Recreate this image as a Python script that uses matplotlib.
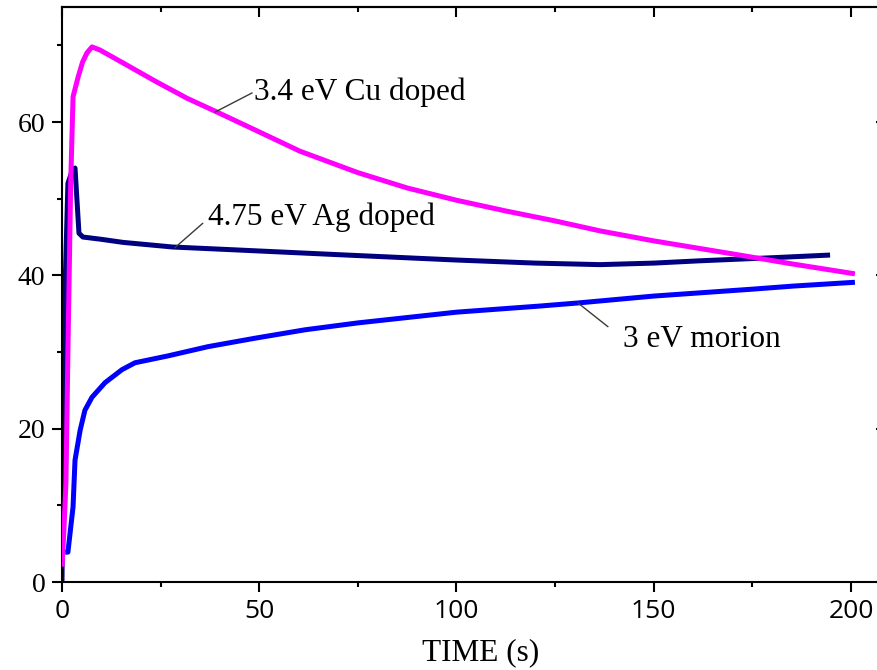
"""Photocurrent transients for doped and morion quartz samples."""

import matplotlib.pyplot as plt

# 3.4 eV, Cu doped
t_cu = [0, 0.5, 1.0, 1.5, 2.2, 2.8, 4.1, 5.2, 6.3, 7.6, 9.6, 15.5, 24.1, 31.7,
        39.3, 48.4, 60.3, 75, 87.5, 100, 112.5, 125, 136.4, 150, 170, 185, 201]
y_cu = [2, 7, 13, 30, 52, 63.3, 65.9, 67.8, 69.0, 69.8, 69.4, 67.7, 65.2, 63.1,
        61.3, 59.1, 56.2, 53.4, 51.4, 49.8, 48.4, 47.1, 45.8, 44.5, 42.8, 41.5, 40.2]

# 4.75 eV, Ag doped
t_ag = [0, 0.3, 0.7, 1.5, 2.5, 3.3, 4.3, 5.3, 10, 15.5, 28, 45, 70, 100, 120,
        136.4, 150, 161.7, 180, 194.7]
y_ag = [0, 20, 37, 52, 53.5, 54, 45.5, 45.0, 44.7, 44.3, 43.7, 43.3, 42.7, 42.0,
        41.6, 41.4, 41.6, 41.9, 42.3, 42.65]

# 3 eV, morion
t_mo = [0.8, 1.5, 2.8, 3.3, 4.6, 5.8, 7.6, 10.9, 15.2, 18.5, 26.9, 37, 48.9,
        61.6, 75, 100, 121.2, 130.8, 150, 175, 185.3, 201]
y_mo = [3.9, 3.9, 9.8, 15.9, 19.8, 22.4, 24.1, 26.0, 27.7, 28.6, 29.5, 30.7,
        31.8, 32.9, 33.8, 35.2, 36.0, 36.4, 37.3, 38.2, 38.6, 39.1]

x_ticks = [0, 50, 100, 150, 200]
y_ticks = [0, 20, 40, 60]

serif = 'Liberation Serif'
sans = 'Open Sans'

fig = plt.figure(figsize=(8.77, 6.70), dpi=100)
ax = fig.add_axes([0.0707, 0.1313, 0.9401, 0.8582])

lw = 3.6
ax.plot(t_cu, y_cu, color='#ff00ff', lw=lw, solid_capstyle='butt', zorder=3)
ax.plot(t_mo, y_mo, color='#0000ff', lw=lw, solid_capstyle='butt', zorder=2)
ax.plot(t_ag, y_ag, color='#000080', lw=lw, solid_capstyle='butt', zorder=2)

ax.set_xlim(0, 209)
ax.set_ylim(0, 75)
ax.set_xticks(x_ticks)
ax.set_yticks(y_ticks)
ax.set_xticks([25, 75, 125, 175], minor=True)
ax.set_yticks([10, 30, 50, 70], minor=True)

for s in ax.spines.values():
    s.set_linewidth(1.5)

ax.tick_params(which='major', direction='out', length=7, width=1.5, pad=5)
ax.tick_params(which='minor', direction='out', length=3.5, width=1.5)
ax.tick_params(axis='x', labelsize=19, labelfontfamily=sans)
ax.tick_params(axis='y', labelsize=20, labelfontfamily=serif)

# top / right ticks point inwards, no labels
top = ax.secondary_xaxis('top')
top.set_xticks(x_ticks)
top.set_xticks([25, 75, 125, 175], minor=True)
right = ax.secondary_yaxis('right')
right.set_yticks(y_ticks)
right.set_yticks([10, 30, 50, 70], minor=True)
for sec in (top, right):
    sec.tick_params(which='major', direction='in', length=7, width=1.5,
                    labelleft=False, labelright=False, labeltop=False, labelbottom=False)
    sec.tick_params(which='minor', direction='in', length=3.5, width=1.5)
    for s in sec.spines.values():
        s.set_linewidth(1.5)

ax.set_xlabel('TIME (s)', fontsize=22.5, fontfamily=serif)
ax.xaxis.set_label_coords(0.508, -0.097)

lead = dict(arrowstyle='-', color='#3a3a3a', lw=1.0, shrinkA=0, shrinkB=0)
ax.annotate('', xy=(38.8, 61.3), xytext=(48.2, 63.8), arrowprops=lead)
ax.text(48.7, 63.9, '3.4 eV Cu doped', fontsize=22.5, fontfamily=serif,
        ha='left', va='center')
ax.annotate('', xy=(28.6, 43.6), xytext=(35.7, 46.8), arrowprops=lead)
ax.text(37.0, 47.6, '4.75 eV Ag doped', fontsize=22.5, fontfamily=serif,
        ha='left', va='center')
ax.annotate('', xy=(130.8, 36.4), xytext=(138.4, 33.3), arrowprops=lead)
ax.text(142.2, 31.6, '3 eV morion', fontsize=22.5, fontfamily=serif,
        ha='left', va='center')

fig.savefig('out.png', dpi=100)
